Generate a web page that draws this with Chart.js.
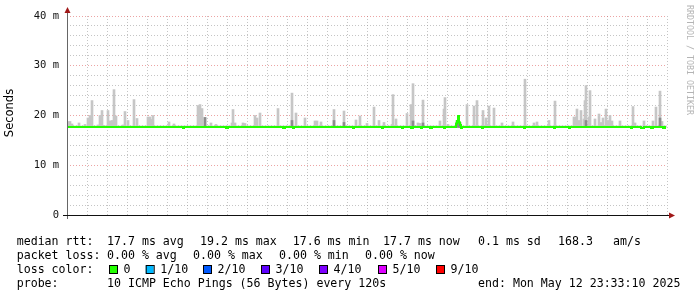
<!DOCTYPE html>
<html>
<head>
<meta charset="utf-8">
<script src="https://cdn.jsdelivr.net/npm/chart.js@4.4.1/dist/chart.umd.min.js"></script>
<style>
  html, body { margin: 0; padding: 0; background: #ffffff; }
  #wrap { width: 697px; height: 297px; position: relative; }
</style>
</head>
<body>
<div id="wrap"><canvas id="smoke" width="697" height="297"></canvas></div>
<script>
// hours counted from Sun 00:00, window of 30 h ending Mon 23:39
const xMin = 17.65;
const xMax = 47.65;

// median rtt (ms), stepped line: value holds until the next point
const medianTime = [17.65, 23.45, 23.50, 25.60, 25.70, 28.45, 28.55, 28.95, 29.00, 31.95, 32.00,
  33.40, 33.45, 34.40, 34.45, 34.85, 34.95, 35.35, 35.40, 35.80, 35.90, 36.50, 36.55,
  37.10, 37.15, 37.20, 37.25, 37.30, 37.35, 37.40, 38.40, 38.45, 40.50, 40.55,
  42.00, 42.05, 42.75, 42.80, 45.85, 45.90, 46.35, 46.50, 46.85, 46.95, 47.45, 47.55, 47.60];
const medianRtt = [17.7, 17.5, 17.7, 17.5, 17.7, 17.5, 17.7, 17.5, 17.7, 17.5, 17.7,
  17.5, 17.7, 17.5, 17.7, 17.5, 17.7, 17.5, 17.7, 17.5, 17.7, 17.5, 17.7,
  18.4, 18.9, 19.9, 18.6, 18.1, 17.5, 17.7, 17.5, 17.7, 17.5, 17.7,
  17.5, 17.7, 17.5, 17.7, 17.5, 17.7, 17.5, 17.7, 17.5, 17.7, 17.5, 17.7, 17.7];

// smoke: lowest ping and thin band just above the median
const smokeFloor = 17.6;
const smokeBand = 18.0;

// smoke spikes (highest ping per step)
const spikeTime = [17.70, 17.80, 17.90, 18.25, 18.55, 18.70, 18.80, 18.90, 19.20, 19.30, 19.40, 19.50,
  19.70, 19.80, 19.90, 20.00, 20.10, 20.45, 20.55, 20.70, 21.00, 21.15, 21.70, 21.80, 21.85, 21.95,
  22.75, 23.00, 24.20, 24.30, 24.40, 24.55, 24.85, 25.10, 25.90, 25.95, 26.05, 26.45, 26.55,
  27.05, 27.15, 27.30, 28.20, 28.90, 29.10, 29.55, 30.05, 30.15, 30.35, 31.00, 31.50, 32.10,
  32.30, 32.65, 33.00, 33.25, 33.50, 33.90, 33.95, 34.10, 34.65, 34.85, 34.95, 35.20, 35.30,
  35.45, 36.30, 36.50, 36.55, 36.70, 37.65, 38.00, 38.15, 38.45, 38.60, 38.75, 39.00, 39.40,
  39.95, 40.55, 41.00, 41.15, 41.75, 42.05, 43.00, 43.10, 43.15, 43.25, 43.35, 43.50, 43.55,
  43.60, 43.75, 43.80, 44.05, 44.25, 44.35, 44.45, 44.60, 44.70, 44.80, 44.90, 45.30, 45.95,
  46.05, 46.50, 46.95, 47.10, 47.30, 47.40];
const spikeMax = [18.8, 18.8, 18.3, 18.5, 18.2, 19.5, 20.0, 23.0, 18.1, 20.0, 21.0, 18.0,
  21.0, 18.9, 19.0, 25.2, 19.9, 18.1, 20.8, 19.0, 23.2, 19.4, 19.7, 19.7, 19.2, 20.0,
  18.7, 18.3, 22.0, 22.2, 21.4, 19.6, 18.5, 18.2, 18.5, 21.2, 18.5, 18.5, 18.4,
  20.0, 19.5, 20.5, 21.4, 24.5, 20.5, 19.5, 18.9, 18.9, 18.7, 21.2, 20.9, 19.1,
  19.9, 18.4, 21.7, 19.0, 18.6, 18.2, 24.2, 19.3, 20.4, 22.2, 26.4, 18.5, 18.4,
  23.1, 18.9, 21.3, 23.6, 18.2, 22.2, 21.9, 23.0, 21.0, 19.5, 21.9, 21.5, 18.5,
  18.7, 27.3, 18.5, 18.7, 19.0, 22.9, 19.7, 19.7, 21.3, 19.0, 21.0, 19.3, 23.0,
  26.0, 19.7, 25.0, 19.3, 20.3, 18.6, 19.5, 21.3, 19.0, 20.0, 18.9, 18.9, 21.8,
  18.5, 18.9, 18.9, 21.7, 24.9, 18.8];

// denser smoke (darker grey) on some steps
const denseTime = [24.55, 28.90, 31.00, 31.50, 34.95, 35.45, 37.15, 37.25, 37.30, 43.60, 47.30];
const denseMax = [19.6, 19.0, 19.0, 18.6, 18.9, 18.5, 19.0, 18.8, 18.6, 19.0, 19.5];

const xLabelHours = { 18: "Sun 18:00", 24: "Mon 00:00", 30: "Mon 06:00", 36: "Mon 12:00", 42: "Mon 18:00" };

const rttStats = [["median rtt:", 16.7], ["17.7 ms avg", 107], ["19.2 ms max", 200], ["17.6 ms min", 292.7],
  ["17.7 ms now", 383], ["0.1 ms sd", 478], ["168.3", 558], ["am/s", 613]];
const lossStats = [["packet loss:", 16.7], ["0.00 % avg", 107], ["0.00 % max", 193], ["0.00 % min", 279], ["0.00 % now", 365]];
const lossLabels = ["0", "1/10", "2/10", "3/10", "4/10", "5/10", "9/10"];
const lossColors = ["#22ff00", "#00b8ff", "#0059ff", "#5e00ff", "#7e00ff", "#dd00ff", "#ff0000"];
const lossX = [109, 145.7, 203, 261, 319, 378, 436];

const minorGrid = "rgba(150,150,150,0.55)";
const majorGrid = "rgba(220,90,90,0.55)";
const mono = "'DejaVu Sans Mono', monospace";

const rrdDecor = {
  id: "rrdDecor",
  afterDraw(chart) {
    const { ctx, chartArea: a } = chart;
    ctx.save();
    // axes
    ctx.lineWidth = 1;
    ctx.strokeStyle = "#666";
    ctx.beginPath();
    ctx.moveTo(a.left + 0.5, a.bottom + 4);
    ctx.lineTo(a.left + 0.5, a.top - 6);
    ctx.stroke();
    ctx.strokeStyle = "#111";
    ctx.beginPath();
    ctx.moveTo(a.left - 4, a.bottom + 0.5);
    ctx.lineTo(a.right + 4, a.bottom + 0.5);
    ctx.stroke();
    // arrows
    ctx.fillStyle = "#a01818";
    ctx.beginPath();
    ctx.moveTo(a.left + 0.5, a.top - 9);
    ctx.lineTo(a.left - 2.5, a.top - 3);
    ctx.lineTo(a.left + 3.5, a.top - 3);
    ctx.closePath();
    ctx.fill();
    ctx.beginPath();
    ctx.moveTo(a.right + 8, a.bottom + 0.5);
    ctx.lineTo(a.right + 2, a.bottom - 2.5);
    ctx.lineTo(a.right + 2, a.bottom + 3.5);
    ctx.closePath();
    ctx.fill();

    // y title
    ctx.fillStyle = "#000";
    ctx.font = "11.5px 'DejaVu Sans', sans-serif";
    ctx.textAlign = "center";
    ctx.textBaseline = "middle";
    ctx.save();
    ctx.translate(10, 113);
    ctx.rotate(-Math.PI / 2);
    ctx.fillText("Seconds", 0, 0);
    ctx.restore();

    // watermark
    ctx.save();
    ctx.fillStyle = "#b4b4b4";
    ctx.font = "8.3px " + mono;
    ctx.translate(689, 60);
    ctx.rotate(Math.PI / 2);
    ctx.fillText("RRDTOOL / TOBI OETIKER", 0, 0);
    ctx.restore();

    // legend
    ctx.textAlign = "left";
    ctx.fillStyle = "#000";
    ctx.font = "11.6px " + mono;
    rttStats.forEach(([t, x]) => ctx.fillText(t, x, 242));
    lossStats.forEach(([t, x]) => ctx.fillText(t, x, 256));
    ctx.fillText("loss color:", 16.7, 270);
    lossLabels.forEach((lab, i) => {
      const x = lossX[i];
      ctx.fillStyle = lossColors[i];
      ctx.fillRect(x, 265.5, 8, 8);
      ctx.strokeStyle = "#000";
      ctx.strokeRect(x + 0.5, 265.5, 8, 8);
      ctx.fillStyle = "#000";
      ctx.fillText(lab, x + 14.5, 270);
    });
    ctx.fillText("probe:", 16.7, 283.5);
    ctx.fillText("10 ICMP Echo Pings (56 Bytes) every 120s", 107, 283.5);
    ctx.fillText("end: Mon May 12 23:33:10 2025", 478, 283.5);
    ctx.restore();
  }
};

new Chart(document.getElementById("smoke"), {
  type: "bar",
  data: {
    datasets: [
      {
        type: "line",
        data: medianTime.map((t, i) => ({ x: t, y: medianRtt[i] })),
        borderColor: "#22ff00",
        borderWidth: 2,
        stepped: true,
        pointRadius: 0,
        order: 0
      },
      {
        data: denseTime.map((t, i) => ({ x: t, y: [smokeFloor, denseMax[i]] })),
        backgroundColor: "#8c8c8c",
        barThickness: 2,
        grouped: false,
        order: 1
      },
      {
        data: spikeTime.map((t, i) => ({ x: t, y: [smokeFloor, spikeMax[i]] })),
        backgroundColor: "#c6c6c6",
        barThickness: 2,
        grouped: false,
        order: 2
      },
      {
        type: "line",
        data: [{ x: xMin, y: smokeBand }, { x: xMax, y: smokeBand }],
        borderWidth: 0,
        pointRadius: 0,
        backgroundColor: "#d6d6d6",
        fill: { value: smokeFloor },
        order: 3
      }
    ]
  },
  options: {
    responsive: false,
    animation: false,
    events: [],
    layout: { padding: { left: 0, right: 30, top: 16, bottom: 0 } },
    plugins: { legend: { display: false }, tooltip: { enabled: false } },
    scales: {
      x: {
        type: "linear",
        min: xMin,
        max: xMax,
        offset: false,
        afterFit: (s) => { s.height = 82; },
        grid: {
          offset: false,
          drawTicks: false,
          color: (c) => (c.tick.value % 3 === 0 ? majorGrid : minorGrid)
        },
        border: { display: false, dash: [1, 2] },
        ticks: {
          stepSize: 1,
          includeBounds: false,
          autoSkip: false,
          maxRotation: 0,
          padding: 2,
          color: "#111",
          font: { family: mono, size: 10 },
          callback: (v) => xLabelHours[v] || ""
        }
      },
      y: {
        min: 0,
        max: 40,
        afterFit: (s) => { s.width = 67; },
        grid: {
          drawTicks: false,
          color: (c) => (c.tick.value === 0 ? "rgba(0,0,0,0)" : c.tick.value % 10 === 0 ? majorGrid : minorGrid)
        },
        border: { display: false, dash: [1, 2] },
        ticks: {
          stepSize: 2,
          autoSkip: false,
          padding: 8,
          color: "#111",
          font: { family: mono, size: 10.5 },
          callback: (v) => (v % 10 === 0 ? (v === 0 ? "0" : v + " m") : "")
        }
      }
    }
  },
  plugins: [rrdDecor]
});
</script>
</body>
</html>
